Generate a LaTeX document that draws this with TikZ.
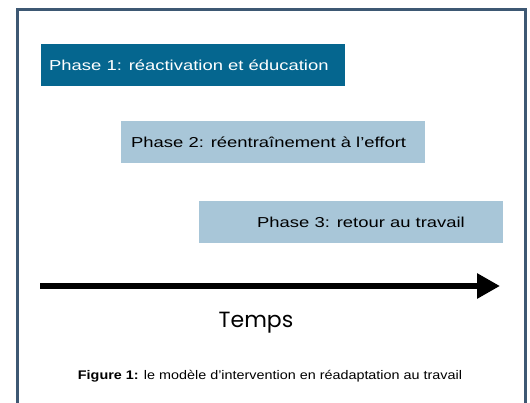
\documentclass[tikz,border=0pt]{standalone}
\usepackage{fontspec}
\usepackage{graphicx}
\setmainfont{Liberation Sans}
\newfontfamily\geofont{Poppins}
\usetikzlibrary{arrows.meta}

\definecolor{framecol}{HTML}{3D5873}
\definecolor{phasedark}{HTML}{05668F}
\definecolor{phaselight}{HTML}{A8C6D8}

% wide-set label text
\newcommand{\widetext}[2]{\scalebox{#1}[1]{#2}}

\tikzset{
  phasebox/.style={draw=none, minimum width=304pt, minimum height=42pt, inner sep=0pt, anchor=north west},
  phasetext/.style={anchor=west, inner sep=0pt, font=\fontsize{14.4}{16}\selectfont},
  timeline/.style={line width=6pt, -{Triangle[length=23pt,width=24pt]}},
}

\begin{document}
\begin{tikzpicture}[x=1pt,y=-1pt]
  \useasboundingbox (0,0) rectangle (530,402);
  \fill[white] (0,0) rectangle (530,402);

  % outer frame, open at the bottom edge of the page
  \draw[framecol, line width=3pt] (17.5,420) -- (17.5,9.5) -- (525,9.5) -- (525,420);

  % the three phases, staggered in time
  \node[phasebox, fill=phasedark]  (p1) at (41,44)  {};
  \node[phasebox, fill=phaselight] (p2) at (121,121) {};
  \node[phasebox, fill=phaselight] (p3) at (199,201) {};

  \node[phasetext, text=white] (t1) at (49,65)  {\widetext{1.28}{Phase 1: réactivation et éducation}};
  \node[phasetext, text=black] (t2) at (131,142) {\widetext{1.28}{Phase 2: réentraînement à l’effort}};
  \node[phasetext, text=black] (t3) at (257,222) {\widetext{1.28}{Phase 3: retour au travail}};

  % time axis
  \coordinate (tstart) at (40,286);
  \coordinate (tend)   at (500,286);
  \draw[timeline] (tstart) -- (tend);
  \node[font=\geofont\fontsize{22}{24}\selectfont, anchor=base, inner sep=0pt] (temps) at (256,327) {Temps};

  % caption
  \node[font=\fontsize{12.5}{14}\selectfont, anchor=base, inner sep=0pt] (caption) at (270,379)
    {\widetext{1.15}{\textbf{Figure 1:} le modèle d’intervention en réadaptation au travail}};
\end{tikzpicture}
\end{document}
